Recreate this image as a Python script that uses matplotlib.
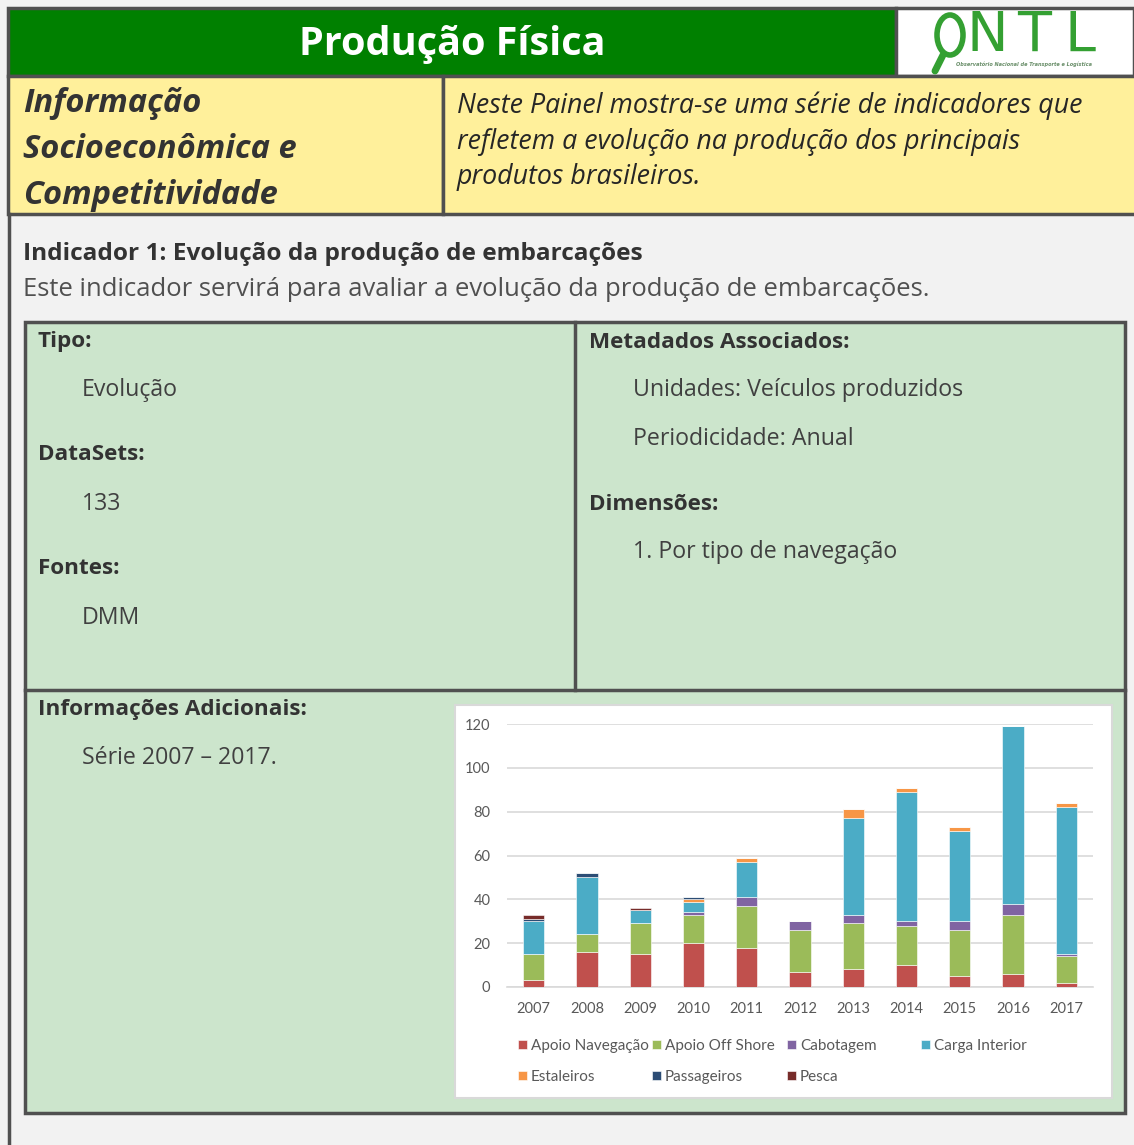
import matplotlib.pyplot as plt
from matplotlib.patches import Rectangle, Ellipse
from matplotlib.lines import Line2D
import numpy as np

# chart data (vessels produced, by type of navigation)
years = ['2007', '2008', '2009', '2010', '2011', '2012', '2013', '2014', '2015', '2016', '2017']
apoio_navegacao = [3, 16, 15, 20, 18, 7, 8, 10, 5, 6, 2]
apoio_offshore = [12, 8, 14, 13, 19, 19, 21, 18, 21, 27, 12]
cabotagem = [0, 0, 0, 1, 4, 4, 4, 2, 4, 5, 1]
carga_interior = [15, 26, 6, 5, 16, 0, 44, 59, 41, 81, 67]
estaleiros = [0, 0, 0, 1, 2, 0, 4, 2, 2, 0, 2]
passageiros = [1, 2, 0, 1, 0, 0, 0, 0, 0, 0, 0]
pesca = [2, 0, 1, 0, 0, 0, 0, 0, 0, 0, 0]

series = [
    ('Apoio Navegação', apoio_navegacao, '#C0504D'),
    ('Apoio Off Shore', apoio_offshore, '#9BBB59'),
    ('Cabotagem', cabotagem, '#8064A2'),
    ('Carga Interior', carga_interior, '#4BACC6'),
    ('Estaleiros', estaleiros, '#F79646'),
    ('Passageiros', passageiros, '#2C4D75'),
    ('Pesca', pesca, '#772C2A'),
]

W, H = 1134, 1145
fig = plt.figure(figsize=(W / 100, H / 100), dpi=100)
fig.patch.set_facecolor('#F2F2F2')

# page layer in pixel coordinates
bg = fig.add_axes([0, 0, 1, 1])
bg.set_xlim(0, W)
bg.set_ylim(H, 0)
bg.axis('off')

border = '#505050'
txt = '#404040'
font = 'Open Sans'


def box(x0, y0, x1, y1, fc, ec=border, lw=2.5, z=1):
    bg.add_patch(Rectangle((x0, y0), x1 - x0, y1 - y0, facecolor=fc,
                           edgecolor=ec, linewidth=lw, zorder=z))


# header
box(8, 8, 896, 76, '#008000')
box(896, 8, 1134, 76, 'white')
bg.text(452, 44, 'Produção Física', color='white', fontsize=28.5, fontweight='bold',
        family=font, ha='center', va='center')

# logo
lc = '#34A032'
bg.add_patch(Ellipse((950, 35), 26, 40, fill=False, edgecolor=lc, linewidth=4, zorder=3))
bg.add_line(Line2D([943, 935], [55, 71], color=lc, linewidth=5, solid_capstyle='round', zorder=3))
for letter, lx in [('N', 987), ('T', 1034), ('L', 1080)]:
    bg.text(lx, 36, letter, color=lc, fontsize=40, family='DejaVu Sans',
            ha='center', va='center', zorder=3)
bg.text(1024, 64, 'Observatório Nacional de Transporte e Logística', color='#6a8f6a',
        fontsize=3.6, style='italic', fontweight='bold', ha='center', va='center', zorder=3)

# yellow row
box(8, 76, 443, 214, '#FFF09B')
box(443, 76, 1140, 214, '#FFF09B')
for i, line in enumerate(['Informação', 'Socioeconômica e', 'Competitividade']):
    bg.text(23, 104 + 46 * i, line, color='#333333', fontsize=23.5, fontweight='bold',
            style='italic', family=font, va='center')
for i, line in enumerate(['Neste Painel mostra-se uma série de indicadores que',
                          'refletem a evolução na produção dos principais',
                          'produtos brasileiros.']):
    bg.text(457, 106 + 35.5 * i, line, color='#262626', fontsize=19.3,
            style='italic', family=font, va='center')

# left page border
bg.add_line(Line2D([8.5, 8.5], [214, H], color=border, linewidth=2.5))

bg.text(23, 254, 'Indicador 1: Evolução da produção de embarcações', color='#333333',
        fontsize=17.6, fontweight='bold', family=font, va='center')
bg.text(23, 290, 'Este indicador servirá para avaliar a evolução da produção de embarcações.',
        color='#505050', fontsize=18.45, family=font, va='center')

# green info box
box(25, 322, 1125, 1113, '#CCE5CC')
bg.add_line(Line2D([575, 575], [322, 690], color=border, linewidth=2.5, zorder=2))
bg.add_line(Line2D([25, 1125], [690, 690], color=border, linewidth=2.5, zorder=2))

heads = [(38, 342, 'Tipo:'), (38, 455, 'DataSets:'), (38, 569, 'Fontes:'),
         (589, 342, 'Metadados Associados:'), (589, 504, 'Dimensões:'),
         (38, 710, 'Informações Adicionais:')]
for x, y, s in heads:
    bg.text(x, y, s, color='#333333', fontsize=16.2, fontweight='bold', family=font,
            va='center', zorder=3)
items = [(82, 390, 'Evolução'), (82, 504, '133'), (82, 618, 'DMM'),
         (633, 390, 'Unidades: Veículos produzidos'), (633, 439, 'Periodicidade: Anual'),
         (633, 552, '1. Por tipo de navegação'), (82, 758, 'Série 2007 – 2017.')]
for x, y, s in items:
    bg.text(x, y, s, color=txt, fontsize=16.7, family=font, va='center', zorder=3)

# chart panel
box(455, 705, 1112, 1098, 'white', ec='#D9D9D9', lw=1.5, z=2)

ax = fig.add_axes([507 / W, 1 - 987 / H, (1093 - 507) / W, (987 - 724) / H])
ax.set_facecolor('none')
x = np.arange(len(years))
bottom = np.zeros(len(years))
handles = {}
for name, vals, color in series:
    vals = np.array(vals, dtype=float)
    b = ax.bar(x, vals, width=0.4, bottom=bottom, color=color, label=name,
               edgecolor='white', linewidth=0.4, zorder=3)
    handles[name] = b
    bottom += vals

ax.set_xlim(-0.5, len(years) - 0.5)
ax.set_ylim(0, 120)
ax.set_yticks(range(0, 121, 20))
ax.set_xticks(x)
ax.set_xticklabels(years)
ax.grid(axis='y', color='#D9D9D9', linewidth=1.2, zorder=0)
for s in ['top', 'right', 'left']:
    ax.spines[s].set_visible(False)
ax.spines['bottom'].set_color('#D9D9D9')
ax.spines['bottom'].set_linewidth(1.2)
ax.tick_params(length=0, labelsize=10.5, labelcolor='#595959')
ax.tick_params(axis='x', pad=10.5)
ax.tick_params(axis='y', pad=12)
for lab in ax.get_xticklabels() + ax.get_yticklabels():
    lab.set_family('Lato')

# legend: four evenly spaced columns, filled row by row
columns = [['Apoio Navegação', 'Estaleiros'], ['Apoio Off Shore', 'Passageiros'],
           ['Cabotagem', 'Pesca'], ['Carga Interior']]
col_x = [518, 652, 787, 921]
for names, cx in zip(columns, col_x):
    leg = fig.legend([handles[n] for n in names], names, loc='upper left',
                     bbox_to_anchor=(cx / W, 1 - 1039 / H), ncol=1, frameon=False,
                     handlelength=0.6, handleheight=0.6, handletextpad=0.25,
                     labelspacing=1.1, borderpad=0, borderaxespad=0,
                     prop={'family': 'Lato', 'size': 11})
    for t in leg.get_texts():
        t.set_color('#595959')

fig.savefig('out.png', dpi=100, facecolor=fig.get_facecolor())
